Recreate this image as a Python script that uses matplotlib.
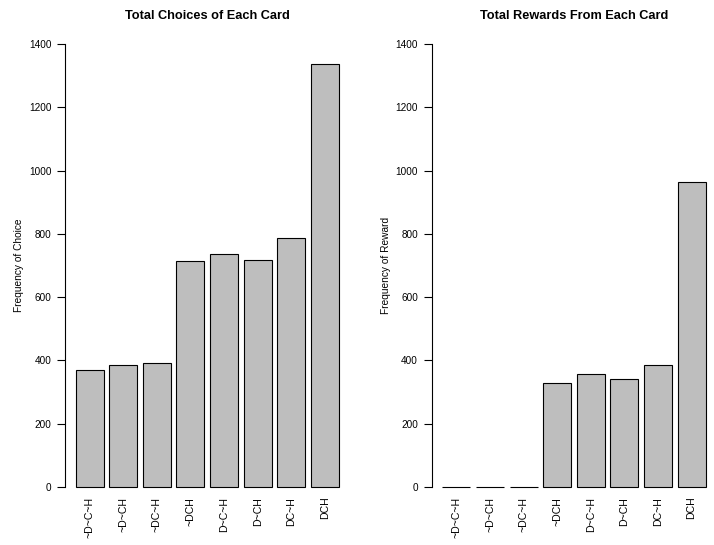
import matplotlib.pyplot as plt

plt.rcParams['font.family'] = ['Liberation Sans', 'DejaVu Sans']

cards = ["~D~C~H", "~D~CH", "~DC~H", "~DCH", "D~C~H", "D~CH", "DC~H", "DCH"]
choices = [371, 386, 391, 713, 735, 717, 787, 1337]
rewards = [0, 0, 0, 330, 356, 342, 387, 965]

# barplot geometry: bar width 1, gap 0.2
positions = [0.7 + 1.2 * i for i in range(len(cards))]
bar_gray = "#bebebe"


def draw_panel(ax, values, title, ylabel):
    ax.bar(positions, values, width=1.0, color=bar_gray, edgecolor="black",
           linewidth=0.8, clip_on=False)
    ax.set_xlim(-0.176, 9.976)
    ax.set_ylim(0, 1400)
    ax.set_yticks(range(0, 1401, 200))
    ax.set_xticks(positions)
    ax.set_xticklabels(cards, rotation=90, va="top")
    for side in ("top", "right", "bottom"):
        ax.spines[side].set_visible(False)
    ax.spines["left"].set_linewidth(0.8)
    ax.tick_params(axis="y", length=5.5, width=0.8, pad=4.5, labelsize=7.2)
    ax.tick_params(axis="x", length=0, pad=7, labelsize=7.6)
    ax.set_ylabel(ylabel, fontsize=7.3, va="center")
    ax.yaxis.set_label_coords(-0.1615, 0.5)
    ax.set_title(title, fontsize=9.2, fontweight="bold", pad=18)


fig = plt.figure(figsize=(7.14, 5.45), dpi=100)
ax1 = fig.add_axes([0.0913, 0.1064, 0.398, 0.8128])
ax2 = fig.add_axes([0.605, 0.1064, 0.398, 0.8128])

draw_panel(ax1, choices, "Total Choices of Each Card", "Frequency of Choice")
draw_panel(ax2, rewards, "Total Rewards From Each Card", "Frequency of Reward")

fig.savefig("out.png", dpi=100)
